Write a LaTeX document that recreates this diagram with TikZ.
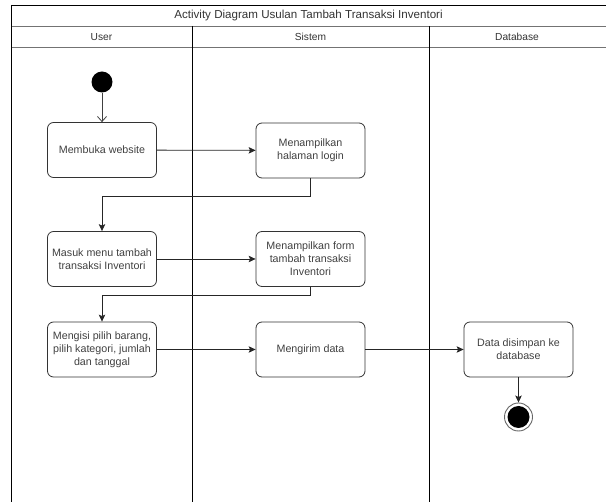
\documentclass[tikz,border=0pt]{standalone}
\usepackage{fontspec}
\setmainfont{Liberation Sans}
\usetikzlibrary{arrows.meta, positioning}

\tikzset{
    actbox/.style={draw=black!80, line width=0.8pt, rounded corners=6pt,
        minimum width=109pt, minimum height=55pt, align=center, inner sep=1pt,
        text=black!75, font=\fontsize{10.7}{13}\selectfont},
    flow/.style={draw=black!85, line width=0.8pt,
        -{Stealth[length=7pt, width=6.5pt, inset=1.5pt]}},
    laneline/.style={line width=0.9pt},
    headline/.style={line width=0.9pt, black!55},
    headtext/.style={text=black!80, font=\fontsize{10.2}{12}\selectfont},
}

\begin{document}
\begin{tikzpicture}[x=1pt, y=-1pt] % 1pt per pixel, y runs down

    \useasboundingbox (0, 0) rectangle (606, 502);

    % Swimlane frame
    \draw[laneline] (11.5, 5) -- (606, 5);
    \draw[laneline] (11.5, 5) -- (11.5, 502);
    \draw[headline] (11.5, 26) -- (606, 26);
    \draw[headline] (11.5, 47) -- (606, 47);
    \foreach \x in {192, 429} {
        \draw[laneline] (\x, 26) -- (\x, 502); % lane borders
    }

    % Title and lane names
    \node[headtext, font=\fontsize{11.6}{13}\selectfont] (title) at (308.5, 16) {Activity Diagram Usulan Tambah Transaksi Inventori};
    \foreach \x/\name/\label in {
            101.5/user/User,
            310.5/sistem/Sistem,
            517/database/Database
        } {
        \node[headtext] (\name) at (\x, 37) {\label};
    }

    % Start
    \node[circle, fill=black, minimum size=21pt, inner sep=0pt] (start) at (102, 82) {};

    % Activities
    \node[actbox] (membuka) at (102, 150) {Membuka website};
    \node[actbox] (login) at (310.5, 150.5) {Menampilkan\\halaman login};
    \node[actbox] (masuk) at (102, 259) {Masuk menu tambah\\transaksi Inventori};
    \node[actbox] (form) at (310.5, 259) {Menampilkan form\\tambah transaksi\\Inventori};
    \node[actbox] (mengisi) at (102, 349.5) {Mengisi pilih barang,\\pilih kategori, jumlah\\dan tanggal};
    \node[actbox] (kirim) at (310.5, 349.5) {Mengirim data};
    \node[actbox] (simpan) at (518.5, 349.5) {Data disimpan ke\\database};

    % End
    \node[circle, draw=black!60, line width=0.9pt, minimum size=28pt, inner sep=0pt] (end) at (518.5, 417) {};
    \fill (end.center) circle (11pt);

    % Flow
    \draw[draw=black!75, line width=0.8pt, -{Straight Barb[length=5pt, width=9pt]}] (start) -- (membuka);
    \draw[flow] (membuka) -- (login);
    \draw[flow] (login.south) -- ++(0, 18) -| (masuk.north);
    \draw[flow] (masuk) -- (form);
    \draw[flow] (form.south) -- ++(0, 9) -| (mengisi.north);
    \draw[flow] (mengisi) -- (kirim);
    \draw[flow] (kirim) -- (simpan);
    \draw[flow] (simpan) -- (end);

\end{tikzpicture}
\end{document}
